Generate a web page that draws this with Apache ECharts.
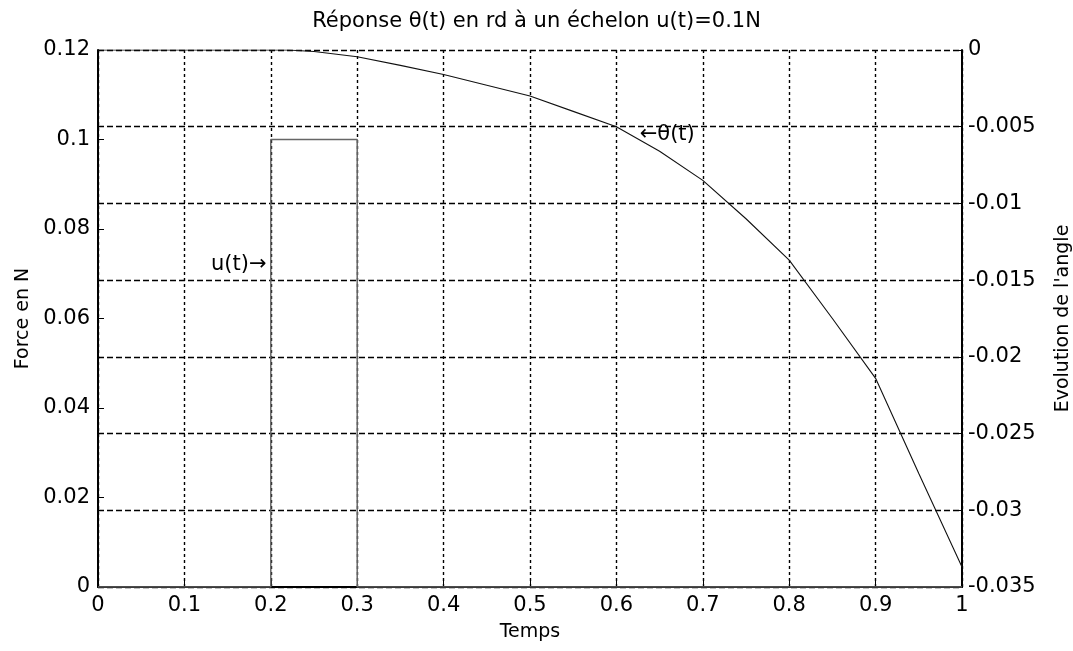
<!DOCTYPE html>
<html>
<head>
<meta charset="utf-8">
<script src="https://cdn.jsdelivr.net/npm/echarts@6/dist/echarts.min.js"></script>
<style>html,body{margin:0;padding:0;background:#fff}#c{width:1073px;height:651px}</style>
</head>
<body>
<div id="c"></div>
<script>
// Data
const titleText = 'Réponse θ(t) en rd à un échelon u(t)=0.1N';
const tTheta = [0, 0.1, 0.2, 0.22, 0.25, 0.3, 0.35, 0.4, 0.45, 0.5, 0.55, 0.6, 0.65, 0.7, 0.75, 0.8, 0.85, 0.9, 0.95, 1.0];
const theta  = [0, 0, 0, 0, -0.0001, -0.00044, -0.0010, -0.0016, -0.0023, -0.0030, -0.0040, -0.0050, -0.0066, -0.0085, -0.0110, -0.0137, -0.0175, -0.0214, -0.0276, -0.0337];
const tU = [0, 0.2, 0.2, 0.3, 0.3, 1.0];
const uVals = [0, 0, 0.1, 0.1, 0, 0];
const uLabel = {text: 'u(t)→', t: 0.195, v: 0.072};
const thetaLabel = {text: '←θ(t)', t: 0.627, v: -0.0055};

const zip = (a, b) => a.map((x, i) => [x, b[i]]);
const font = 'DejaVu Sans, sans-serif';
const chart = echarts.init(document.getElementById('c'));
chart.setOption({
  backgroundColor: '#fff',
  animation: false,
  title: {text: titleText, left: 'center', top: 6,
    textStyle: {fontFamily: font, fontSize: 21, fontWeight: 'normal', color: '#000'}},
  grid: {left: 98, right: 111, top: 50, bottom: 64, show: false, outerBoundsMode: 'none', containLabel: false},
  xAxis: {type: 'value', min: 0, max: 1, interval: 0.1,
    name: 'Temps', nameLocation: 'middle', nameGap: 36,
    nameTextStyle: {fontFamily: font, fontSize: 19, color: '#000'},
    axisLine: {lineStyle: {color: '#000', width: 2}},
    axisTick: {inside: true, length: 6, lineStyle: {color: '#000'}},
    axisLabel: {fontFamily: font, fontSize: 21, color: '#000', margin: 8},
    splitLine: {show: true, lineStyle: {color: '#000', type: [3, 3], width: 1.4}}},
  yAxis: [
    {type: 'value', min: 0, max: 0.12, interval: 0.02, position: 'left',
      name: 'Force en N', nameLocation: 'middle', nameGap: 60, nameRotate: 90,
      nameTextStyle: {fontFamily: font, fontSize: 19, color: '#000'},
      axisLine: {show: true, lineStyle: {color: '#000', width: 2}},
      axisTick: {show: true, inside: true, length: 6, lineStyle: {color: '#000'}},
      axisLabel: {fontFamily: font, fontSize: 21, color: '#000', margin: 8},
      splitLine: {show: false}},
    {type: 'value', min: -0.035, max: 0, interval: 0.005, position: 'right',
      name: "Evolution de l'angle", nameLocation: 'middle', nameGap: 92, nameRotate: 90,
      nameTextStyle: {fontFamily: font, fontSize: 19, color: '#000'},
      axisLine: {show: true, lineStyle: {color: '#000', width: 2}},
      axisTick: {show: true, inside: true, length: 6, lineStyle: {color: '#000'}},
      axisLabel: {fontFamily: font, fontSize: 21, color: '#000', margin: 6},
      splitLine: {show: true, lineStyle: {color: '#000', type: [6, 3], width: 1.4}}}
  ],
  series: [
    {type: 'line', name: 'u(t)', yAxisIndex: 0, data: zip(tU, uVals), showSymbol: false,
      lineStyle: {color: '#666', width: 1.5}, z: 3,
      markPoint: {symbol: 'circle', symbolSize: 0, silent: true,
        data: [{coord: [uLabel.t, uLabel.v], label: {show: true, formatter: uLabel.text, position: 'left', distance: 0,
          fontFamily: font, fontSize: 21, color: '#000'}}]}},
    {type: 'line', name: 'theta', yAxisIndex: 1, data: zip(tTheta, theta), showSymbol: false, smooth: false,
      lineStyle: {color: '#111', width: 1.1}, z: 3,
      markPoint: {symbol: 'circle', symbolSize: 0, silent: true,
        data: [{coord: [thetaLabel.t, thetaLabel.v], label: {show: true, formatter: thetaLabel.text, position: 'right', distance: 0,
          fontFamily: font, fontSize: 21, color: '#000'}}]}}
  ]
});
</script>
</body>
</html>
